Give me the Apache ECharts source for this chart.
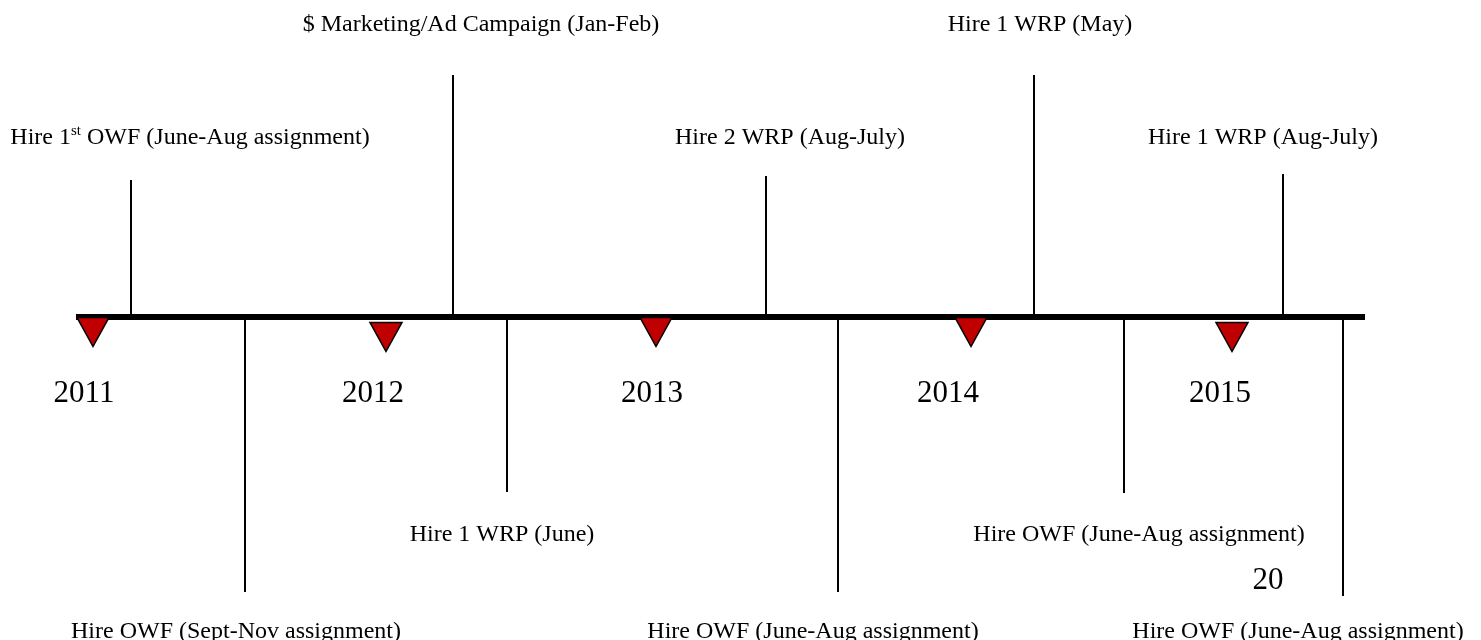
<!DOCTYPE html>
<html>
<head>
<meta charset="utf-8">
<script src="https://cdn.jsdelivr.net/npm/echarts@6/dist/echarts.min.js"></script>
<style>
html,body{margin:0;padding:0;background:#fff;}
#chart{width:1481px;height:640px;}
</style>
</head>
<body>
<div id="chart"></div>
<script>
// ---- data (positions along the timeline, heights above (+) / below (-) the timeline) ----
const timelineSpan = [76, 1365];
const years = ['2011', '2012', '2013', '2014', '2015'];
const yearMarkerX = [93, 386, 656, 971, 1232];
const yearMarkerY = [-15, -20, -15, -15, -20];
const yearLabelX = [84, 373, 652, 948, 1220];
const yearLabelY = [-77, -77, -77, -77, -77];

const eventText = [
  'Hire 1st OWF (June-Aug assignment)',
  'Hire OWF (Sept-Nov assignment)',
  '$ Marketing/Ad Campaign (Jan-Feb)',
  'Hire 1 WRP (June)',
  'Hire 2 WRP (Aug-July)',
  'Hire OWF (June-Aug assignment)',
  'Hire 1 WRP (May)',
  'Hire OWF (June-Aug assignment)',
  'Hire 1 WRP (Aug-July)',
  'Hire OWF (June-Aug assignment)'
];
const eventX = [131, 245, 453, 507, 766, 838, 1034, 1124, 1283, 1343];
const eventReach = [137, -275, 242, -175, 141, -275, 242, -176, 143, -279];
const labelX = [190, 236, 481, 502, 790, 813, 1040, 1139, 1263, 1298];
const labelY = [179, -315, 292, -218, 179, -315, 292, -218, 179, -315];

const strayText = ['20'];
const strayX = [1268];
const strayY = [-264];

// ---- chart ----
const FONT = '"Liberation Serif", "Times New Roman", serif';
const chart = echarts.init(document.getElementById('chart'), null, {renderer: 'canvas'});

function richLabel(t) {
  const m = t.match(/^(.*\d)(st|nd|rd|th)(\s.*)$/);
  if (!m) return {text: '{a|' + t + '}'};
  return {text: '{a|' + m[1] + '}{s|' + m[2] + '}{a|' + m[3] + '}'};
}

const option = {
  backgroundColor: '#ffffff',
  animation: false,
  grid: {left: 0, right: 0, top: 0, bottom: 0},
  xAxis: {type: 'value', min: 0, max: 1481, show: false},
  yAxis: {type: 'value', min: -323, max: 317, show: false},
  series: [
    {
      type: 'line',
      data: [[timelineSpan[0], 0], [timelineSpan[1], 0]],
      symbol: 'none',
      lineStyle: {color: '#000', width: 6, cap: 'butt'},
      z: 3
    },
    {
      type: 'custom',
      data: eventX.map((x, i) => [x, eventReach[i], labelX[i], labelY[i], i]),
      renderItem: function (params, api) {
        const x = api.value(0), r = api.value(1);
        const p0 = api.coord([x, 0]);
        const p1 = api.coord([x, r]);
        const lp = api.coord([api.value(2), api.value(3)]);
        const idx = api.value(4);
        const rl = richLabel(eventText[idx]);
        const px = Math.round(p0[0]);
        return {
          type: 'group',
          children: [
            {
              type: 'line',
              shape: {x1: px, y1: p0[1] + (r > 0 ? 0 : -3), x2: px, y2: p1[1]},
              style: {stroke: '#000', lineWidth: 2}
            },
            {
              type: 'text',
              x: lp[0], y: lp[1],
              style: {
                text: rl.text,
                align: 'center',
                verticalAlign: 'middle',
                rich: {
                  a: {fontFamily: FONT, fontSize: 24, lineHeight: 28, fill: '#000'},
                  s: {fontFamily: FONT, fontSize: 15, lineHeight: 28, fill: '#000', verticalAlign: 'top'}
                }
              }
            }
          ]
        };
      },
      z: 2
    },
    {
      type: 'scatter',
      data: yearMarkerX.map((x, i) => [x, yearMarkerY[i]]),
      symbol: 'triangle',
      symbolRotate: 180,
      symbolSize: [32, 29],
      itemStyle: {color: '#C00000', borderColor: '#000', borderWidth: 1.5, opacity: 1},
      z: 4
    },
    {
      type: 'custom',
      data: years.map((y, i) => [yearLabelX[i], yearLabelY[i], i]).concat(
        strayText.map((t, i) => [strayX[i], strayY[i], years.length + i])),
      renderItem: function (params, api) {
        const p = api.coord([api.value(0), api.value(1)]);
        const idx = api.value(2);
        const txt = idx < years.length ? years[idx] : strayText[idx - years.length];
        return {
          type: 'text',
          x: p[0], y: p[1],
          style: {
            text: txt, align: 'center', verticalAlign: 'middle',
            fontFamily: FONT, fontSize: 31, fill: '#000'
          }
        };
      },
      z: 5
    }
  ]
};
chart.setOption(option);
</script>
</body>
</html>
